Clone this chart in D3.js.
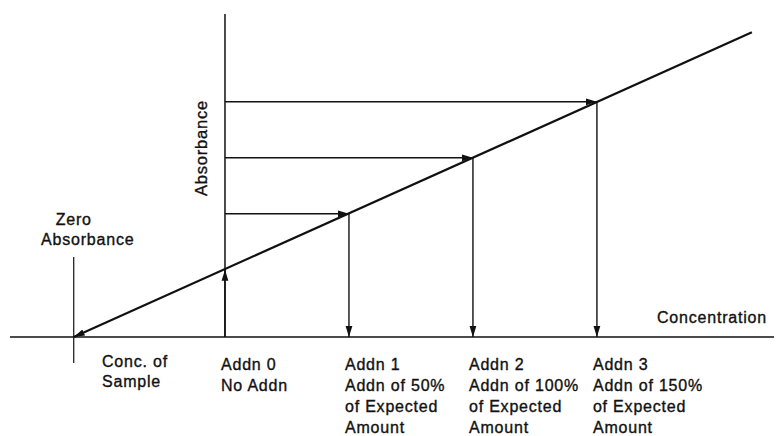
<!DOCTYPE html>
<html>
<head>
  <title>Standard additions</title>
  <script src="https://d3js.org/d3.v7.min.js"></script>
  <style>
    body { margin: 0; background: #fff; }
    text { font-family: "Liberation Sans", Arial, Helvetica, sans-serif; font-size: 16px; letter-spacing: 0.8px; fill: #111; stroke: #111; stroke-width: 0.35px; }
  </style>
</head>
<body>
<svg width="777" height="436"></svg>
<script>
  // additions, in units of the expected amount, and the absorbance read for each
  const additions = [0, 0.5, 1.0, 1.5];
  const absorbance = [0.30, 0.55, 0.80, 1.05];
  const sampleConc = -0.61;          // extrapolated x-intercept (zero absorbance)
  const lineEndConc = 2.125;
  const lineEndAbs = 1.36;

  const addnLabels = [
    ["Addn 0", "No Addn"],
    ["Addn 1", "Addn of 50%", "of Expected", "Amount"],
    ["Addn 2", "Addn of 100%", "of Expected", "Amount"],
    ["Addn 3", "Addn of 150%", "of Expected", "Amount"]
  ];
  const sampleLabel = ["Conc. of", "Sample"];
  const zeroLabel = ["Zero", "Absorbance"];

  const svg = d3.select("svg");
  const ink = "#111";

  const x = d3.scaleLinear().domain([-0.867, 2.198]).range([10, 770]);
  const y = d3.scaleLinear().domain([0, 1.442]).range([337, 14]);

  // arrowhead marker
  svg.append("defs").append("marker")
    .attr("id", "arrow")
    .attr("markerUnits", "userSpaceOnUse")
    .attr("markerWidth", 12)
    .attr("markerHeight", 8)
    .attr("refX", 11)
    .attr("refY", 4)
    .attr("orient", "auto")
    .append("path")
    .attr("d", "M0,0.6 L11,4 L0,7.4 Z")
    .attr("fill", ink);

  // concentration axis (baseline)
  svg.append("line")
    .attr("x1", 10).attr("x2", 774)
    .attr("y1", y(0)).attr("y2", y(0))
    .attr("stroke", ink).attr("stroke-width", 1.6);

  // absorbance axis at zero addition
  svg.append("line")
    .attr("x1", x(0)).attr("x2", x(0))
    .attr("y1", y(0)).attr("y2", y(1.442))
    .attr("stroke", ink).attr("stroke-width", 1.5);

  // zero absorbance tick
  svg.append("line")
    .attr("x1", x(sampleConc)).attr("x2", x(sampleConc))
    .attr("y1", y(0) - 80).attr("y2", y(0) + 26)
    .attr("stroke", ink).attr("stroke-width", 1.2);

  // calibration line, extrapolated back to zero absorbance
  svg.append("line")
    .attr("x1", x(lineEndConc)).attr("y1", y(lineEndAbs))
    .attr("x2", x(sampleConc)).attr("y2", y(0))
    .attr("stroke", ink).attr("stroke-width", 2.2)
    .attr("marker-end", "url(#arrow)");

  const pts = additions.map((c, i) => ({ c: c, a: absorbance[i], i: i }));

  // addn 0: arrow up from baseline to the line
  svg.append("line")
    .attr("x1", x(pts[0].c)).attr("x2", x(pts[0].c))
    .attr("y1", y(0)).attr("y2", y(pts[0].a))
    .attr("stroke", ink).attr("stroke-width", 1.5)
    .attr("marker-end", "url(#arrow)");

  // horizontal arrows from absorbance axis to the line
  svg.selectAll(".hArrow")
    .data(pts.slice(1))
    .enter()
    .append("line")
    .attr("class", "hArrow")
    .attr("x1", x(0)).attr("x2", d => x(d.c))
    .attr("y1", d => y(d.a)).attr("y2", d => y(d.a))
    .attr("stroke", ink).attr("stroke-width", 1.4)
    .attr("marker-end", "url(#arrow)");

  // vertical arrows from the line down to the baseline
  svg.selectAll(".vArrow")
    .data(pts.slice(1))
    .enter()
    .append("line")
    .attr("class", "vArrow")
    .attr("x1", d => x(d.c)).attr("x2", d => x(d.c))
    .attr("y1", d => y(d.a)).attr("y2", y(0))
    .attr("stroke", ink).attr("stroke-width", 1.4)
    .attr("marker-end", "url(#arrow)");

  // labels under each addition
  const lab = svg.selectAll(".addnLabel")
    .data(addnLabels)
    .enter()
    .append("text")
    .attr("class", "addnLabel")
    .attr("x", (d, i) => x(additions[i]) - 4)
    .attr("y", 370);
  lab.selectAll("tspan")
    .data(d => d)
    .enter()
    .append("tspan")
    .attr("x", function() { return d3.select(this.parentNode).attr("x"); })
    .attr("dy", (d, i) => i === 0 ? 0 : 21)
    .text(d => d);

  const sl = svg.append("text").attr("x", 102).attr("y", 367);
  sl.selectAll("tspan")
    .data(sampleLabel)
    .enter()
    .append("tspan")
    .attr("x", 102)
    .attr("dy", (d, i) => i === 0 ? 0 : 20)
    .text(d => d);

  svg.append("text")
    .attr("x", x(sampleConc))
    .attr("y", 225)
    .attr("text-anchor", "middle")
    .text(zeroLabel[0]);
  svg.append("text")
    .attr("x", 41)
    .attr("y", 245)
    .text(zeroLabel[1]);

  svg.append("text")
    .attr("x", 657)
    .attr("y", 323)
    .text("Concentration");

  svg.append("text")
    .attr("transform", "translate(207,148) rotate(-90)")
    .attr("text-anchor", "middle")
    .style("font-size", "16.5px")
    .text("Absorbance");
</script>
</body>
</html>
